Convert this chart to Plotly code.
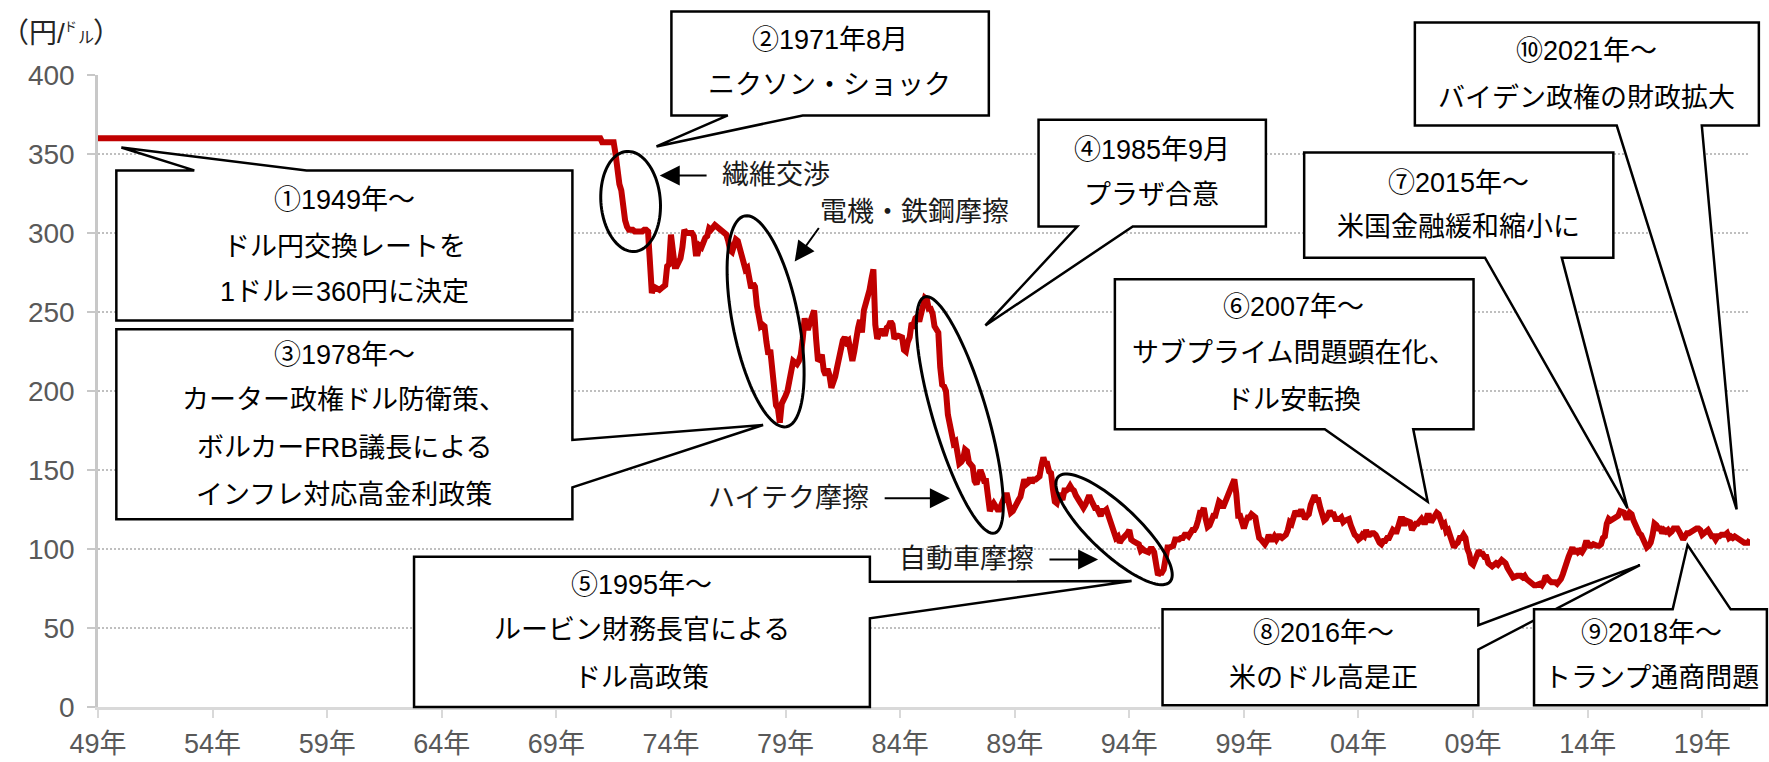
import plotly.graph_objects as go
import numpy as np

# ---------------- data: USD/JPY monthly (円/ドル) ----------------
# fixed-rate era (break points of the peg)
fixed_months = ["1949-01", "1970-12", "1971-01", "1971-07"]
fixed_rates = [360, 360, 357.5, 357.5]

# floating era, monthly from 1971-08
float_start = "1971-08"
rates_1971_79 = [
    350, 336, 331, 327, 315,                                      # 1971 Aug-Dec
    308, 304, 302, 302, 302, 301, 301, 301, 301, 301, 302, 302,   # 1972
    301, 278, 262, 266, 265, 265, 264, 265, 266, 267, 279, 280,   # 1973
    299, 288, 279, 279, 282, 284, 291, 302, 300, 300, 300, 300,   # 1974
    298, 287, 287, 292, 291, 295, 297, 298, 303, 302, 303, 305,   # 1975
    304, 303, 301, 300, 300, 299, 295, 289, 288, 294, 296, 295,   # 1976
    291, 285, 280, 277, 278, 271, 265, 268, 266, 254, 244, 241,   # 1977
    242, 241, 231, 223, 226, 212, 194, 191, 189, 180, 192, 196,   # 1978
    197, 200, 206, 215, 219, 218, 217, 219, 223, 233, 246, 240,   # 1979
]
rates_1980s = [
    240, 244, 248, 251, 233, 219, 220, 223, 213, 210, 214, 210,   # 1980
    202, 205, 209, 215, 221, 224, 232, 234, 231, 232, 222, 219,   # 1981
    225, 235, 240, 245, 237, 251, 255, 258, 264, 271, 277, 242,   # 1982
    233, 236, 238, 238, 235, 240, 241, 244, 242, 233, 235, 235,   # 1983
    234, 234, 226, 225, 231, 234, 243, 242, 246, 247, 244, 248,   # 1984
    254, 259, 258, 252, 252, 249, 241, 238, 237, 215, 204, 203,   # 1985
    200, 185, 179, 175, 167, 168, 159, 154, 155, 157, 163, 162,   # 1986
    155, 154, 152, 143, 141, 145, 150, 147, 143, 143, 135, 124,   # 1987
    127, 129, 127, 125, 125, 128, 133, 134, 134, 129, 123, 124,   # 1988
    127, 128, 131, 133, 138, 144, 141, 142, 145, 142, 144, 144,   # 1989
]
rates_1990s = [
    145, 146, 153, 158, 154, 154, 149, 148, 138, 130, 129, 134,   # 1990
    134, 131, 137, 137, 138, 140, 138, 137, 134, 131, 130, 128,   # 1991
    126, 128, 133, 134, 131, 127, 126, 126, 123, 121, 124, 124,   # 1992
    125, 121, 117, 112, 110, 107, 108, 104, 106, 107, 108, 110,   # 1993
    112, 106, 105, 104, 104, 103, 99, 100, 99, 98, 98, 100,       # 1994
    100, 98, 91, 83.5, 85, 85, 87, 95, 101, 101, 102, 102,        # 1995
    106, 106, 106, 107, 107, 109, 109, 108, 110, 112, 112, 114,   # 1996
    118, 123, 123, 126, 119, 114, 115, 118, 121, 121, 125, 130,   # 1997
    129, 126, 129, 132, 135, 140, 141, 144, 135, 121, 121, 117,   # 1998
    113, 117, 120, 120, 122, 121, 120, 113, 107, 106, 105, 103,   # 1999
]
rates_2000s = [
    105, 109, 106, 106, 108, 106, 108, 108, 107, 108, 109, 112,   # 2000
    117, 116, 121, 124, 122, 122, 125, 121, 119, 121, 122, 128,   # 2001
    133, 134, 131, 131, 126, 123, 118, 119, 121, 124, 122, 122,   # 2002
    119, 119, 119, 120, 117, 118, 119, 119, 115, 110, 109, 108,   # 2003
    106, 107, 109, 108, 112, 109, 109, 110, 110, 109, 105, 104,   # 2004
    103, 105, 105, 107, 107, 109, 112, 111, 111, 115, 119, 119,   # 2005
    115, 118, 117, 117, 112, 115, 116, 116, 117, 119, 117, 117,   # 2006
    121, 121, 117, 119, 121, 123, 122, 117, 115, 116, 111, 112,   # 2007
    108, 107, 101, 103, 104, 107, 107, 109, 107, 100, 97, 91,     # 2008
    90, 93, 98, 99, 97, 97, 95, 95, 91, 90, 89, 90,               # 2009
]
rates_2010s = [
    91, 90, 91, 93, 92, 91, 88, 85, 84, 82, 83, 83,               # 2010
    83, 83, 82, 83, 81, 80, 79, 77, 77, 77, 78, 78,               # 2011
    77, 79, 83, 81, 80, 79, 79, 79, 78, 79, 81, 84,               # 2012
    89, 93, 95, 98, 101, 97, 100, 98, 99, 98, 100, 104,           # 2013
    104, 102, 102, 103, 102, 102, 102, 103, 107, 108, 116, 119,   # 2014
    118, 119, 120, 120, 121, 124, 123, 123, 120, 120, 123, 122,   # 2015
    118, 115, 113, 110, 109, 106, 104, 101, 102, 104, 109, 116,   # 2016
    115, 113, 113, 110, 112, 111, 112, 110, 111, 113, 113, 113,   # 2017
    111, 108, 106, 108, 110, 110, 111, 111, 112, 113, 113, 112,   # 2018
    109, 110, 111, 112, 110, 108, 108, 106, 108, 108, 109, 109,   # 2019
]
rates_2020s = [
    109, 110, 107, 108, 107, 108, 107, 106, 106, 105, 104, 104,   # 2020
    104, 106,                                                     # 2021
]

tick_years = [1949, 1954, 1959, 1964, 1969, 1974, 1979, 1984, 1989,
              1994, 1999, 2004, 2009, 2014, 2019]
tick_labels = ["49年", "54年", "59年", "64年", "69年", "74年", "79年", "84年",
               "89年", "94年", "99年", "04年", "09年", "14年", "19年"]


def month_to_year(s):
    y, m = s.split("-")
    return int(y) + (int(m) - 1) / 12.0


floating = (rates_1971_79 + rates_1980s + rates_1990s + rates_2000s
            + rates_2010s + rates_2020s)
t0 = month_to_year(float_start)
x_vals = [month_to_year(s) for s in fixed_months] + \
         [t0 + i / 12.0 for i in range(len(floating))]
y_vals = fixed_rates + floating

# ---------------- figure geometry ----------------
FIG_W, FIG_H = 1769, 762
ML, MR, MT, MB = 98, 19, 75, 55
PW, PH = FIG_W - ML - MR, FIG_H - MT - MB
X0, X1 = 1949.0, x_vals[-1]
Y0, Y1 = 0, 400

FONT = "Liberation Sans, Noto Sans CJK JP, sans-serif"
TXT = 27


def to_paper(year, val):
    return (year - X0) / (X1 - X0), (val - Y0) / (Y1 - Y0)


def to_px(year, val):
    px, py = to_paper(year, val)
    return ML + px * PW, MT + (1 - py) * PH


def px_to_paper(X, Y):
    return (X - ML) / PW, (MT + PH - Y) / PH


def path_from(points):
    s = []
    for i, (a, b) in enumerate(points):
        s.append(("M" if i == 0 else "L") + f"{a:.5f},{b:.5f}")
    return " ".join(s) + " Z"


def callout(x0, x1, y0, y1, side, b0, b1, tip):
    """Rectangle (data units) with a wedge tail on one side."""
    tl, tr, br, bl = (x0, y1), (x1, y1), (x1, y0), (x0, y0)
    if side == "top":
        pts = [tl, (b0, y1), tip, (b1, y1), tr, br, bl]
    elif side == "right":
        pts = [tl, tr, (x1, b0), tip, (x1, b1), br, bl]
    else:  # bottom
        pts = [tl, tr, br, (b1, y0), tip, (b0, y0), bl]
    return path_from([to_paper(*p) for p in pts])


def ellipse(p1, p2, half_width_px, n=90):
    """Ellipse whose major axis runs between two data points."""
    ax, ay = to_px(*p1)
    bx, by = to_px(*p2)
    cx, cy = (ax + bx) / 2, (ay + by) / 2
    a = np.hypot(bx - ax, by - ay) / 2
    ang = np.arctan2(by - ay, bx - ax)
    t = np.linspace(0, 2 * np.pi, n, endpoint=False)
    xs = cx + a * np.cos(t) * np.cos(ang) - half_width_px * np.sin(t) * np.sin(ang)
    ys = cy + a * np.cos(t) * np.sin(ang) + half_width_px * np.sin(t) * np.cos(ang)
    return path_from([px_to_paper(x, y) for x, y in zip(xs, ys)])


fig = go.Figure()
fig.add_trace(go.Scatter(
    x=x_vals, y=y_vals, mode="lines",
    line=dict(color="#C00000", width=6),
    hoverinfo="skip", showlegend=False,
))

shapes = []
box_line = dict(color="black", width=2.5)

# callout boxes: (x0, x1, y0, y1, side, base0, base1, tip)
callouts = [
    (1949.80, 1969.70, 244.6, 339.6, "top", 1953.2, 1958.1, (1950.02, 354.1)),
    (1974.02, 1987.87, 374.4, 440.2, "bottom", 1976.48, 1979.75, (1973.37, 354.8)),
    (1949.80, 1969.70, 118.8, 239.1, "right", 169.0, 139.0, (1978.02, 178.5)),
    (1990.04, 1999.96, 304.1, 371.6, "bottom", 1991.73, 1994.15, (1987.72, 241.5)),
    (1962.79, 1982.68, 0.0, 95.1, "right", 79.2, 56.1, (1994.10, 79.7)),
    (1993.37, 2009.02, 175.8, 270.8, "bottom", 2002.53, 2006.39, (2007.02, 129.9)),
    (2001.63, 2015.12, 284.4, 350.9, "bottom", 2009.52, 2012.87, (2015.74, 125.7)),
    (1995.45, 2009.23, 1.1, 61.8, "right", 51.8, 36.4, (2016.28, 89.8)),
    (2011.66, 2021.82, 1.1, 61.8, "top", 2017.71, 2020.24, (2018.36, 102.5)),
    (2006.46, 2021.47, 368.0, 433.3, "bottom", 2015.27, 2018.98, (2020.50, 125.1)),
]
for c in callouts:
    shapes.append(dict(type="path", xref="paper", yref="paper",
                       path=callout(*c), line=box_line,
                       fillcolor="white", layer="above"))

# ellipses around the trade-friction episodes
ellipses = [
    ((1972.06, 351.6), (1972.42, 288.3), 29.7),
    ((1977.22, 310.8), (1979.04, 177.4), 33.0),
    ((1985.08, 259.6), (1988.13, 110.1), 27.0),
    ((1990.90, 145.7), (1995.77, 79.2), 24.0),
]
for p1, p2, hw in ellipses:
    shapes.append(dict(type="path", xref="paper", yref="paper",
                       path=ellipse(p1, p2, hw),
                       line=dict(color="black", width=3),
                       fillcolor="rgba(0,0,0,0)", layer="above"))

annotations = []


def text_at(year, val, s, color="black", size=TXT):
    px, py = to_paper(year, val)
    return dict(x=px, y=py, xref="paper", yref="paper", text=s,
                showarrow=False, xanchor="center", yanchor="middle",
                font=dict(family=FONT, size=size, color=color))


# callout texts: (centre year, [(value, text), ...])
callout_texts = [
    (1959.75, [(320.9, "①1949年～"), (291.3, "ドル円交換レートを"),
               (262.8, "1ドル＝360円に決定")]),
    (1980.93, [(422.3, "②1971年8月"), (393.8, "ニクソン・ショック")]),
    (1959.75, [(222.8, "③1978年～"), (194.3, "カーター政権ドル防衛策、"),
               (163.7, "ボルカーFRB議長による"), (134.1, "インフレ対応高金利政策")]),
    (1994.98, [(352.4, "④1985年9月"), (324.2, "プラザ合意")]),
    (1972.73, [(77.1, "⑤1995年～"), (48.6, "ルービン財務長官による"),
               (18.1, "ドル高政策")]),
    (2001.18, [(253.4, "⑥2007年～"), (223.9, "サブプライム問題顕在化、"),
               (194.3, "ドル安転換")]),
    (2008.37, [(331.6, "⑦2015年～"), (304.1, "米国金融緩和縮小に")]),
    (2002.49, [(46.6, "⑧2016年～"), (18.1, "米のドル高是正")]),
    (2016.80, [(46.6, "⑨2018年～"), (18.1, "トランプ通商問題")]),
    (2013.97, [(414.9, "⑩2021年～"), (385.4, "バイデン政権の財政拡大")]),
]
for cx, lines in callout_texts:
    for v, s in lines:
        annotations.append(text_at(cx, v, s))

# friction labels with arrows: (label centre, text, arrow tail, arrow tip)
friction = [
    ((1978.57, 336.4), "繊維交渉", (1975.62, 336.4), (1973.51, 336.4)),
    ((1984.64, 313.6), "電機・鉄鋼摩擦", (1980.50, 304.1), (1979.40, 281.9)),
    ((1979.11, 132.1), "ハイテク摩擦", (1983.26, 132.1), (1986.17, 132.1)),
    ((1986.90, 93.4), "自動車摩擦", (1990.45, 93.4), (1992.64, 93.4)),
]
for (lx, ly), s, tail, tip in friction:
    annotations.append(text_at(lx, ly, s, color="#1a1a1a"))
    annotations.append(dict(x=tip[0], y=tip[1], ax=tail[0], ay=tail[1],
                            xref="x", yref="y", axref="x", ayref="y", text="",
                            showarrow=True, arrowhead=2, arrowsize=2,
                            arrowwidth=2, arrowcolor="black", standoff=0))

# unit label （円/ドル）
unit_parts = [
    ("（円/", 28, 0, 33),
    ("ド", 13, 63, 26),
    ("ル", 16, 77, 38),
    ("）", 28, 92, 33),
]
for s, size, X, Y in unit_parts:
    px, py = px_to_paper(X, Y)
    annotations.append(dict(x=px, y=py, xref="paper", yref="paper", text=s,
                            showarrow=False, xanchor="left", yanchor="middle",
                            borderpad=0,
                            font=dict(family=FONT, size=size, color="#262626")))

fig.update_layout(
    width=FIG_W, height=FIG_H,
    margin=dict(l=ML, r=MR, t=MT, b=MB, pad=0, autoexpand=False),
    paper_bgcolor="white", plot_bgcolor="white",
    font=dict(family=FONT),
    shapes=shapes, annotations=annotations,
    xaxis=dict(range=[X0, X1], tickvals=tick_years, ticktext=tick_labels,
               automargin=False,
               showgrid=False, zeroline=False, showline=True,
               linecolor="#D9D9D9", linewidth=2.5, ticks="outside",
               ticklen=8, tickwidth=2, tickcolor="#D9D9D9",
               tickfont=dict(family=FONT, size=27, color="#595959"),
               ticklabelstandoff=3),
    yaxis=dict(range=[Y0, Y1], tick0=0, dtick=50, showgrid=True,
               automargin=False,
               gridcolor="#BFBFBF", gridwidth=1.5, griddash="2px,2px",
               zeroline=False, showline=True, linecolor="#C8C8C8",
               linewidth=2.5, ticks="outside", ticklen=8, tickwidth=2,
               tickcolor="#C8C8C8",
               tickfont=dict(family=FONT, size=28, color="#595959"),
               ticklabelstandoff=7),
)

fig.write_html("out.html")
